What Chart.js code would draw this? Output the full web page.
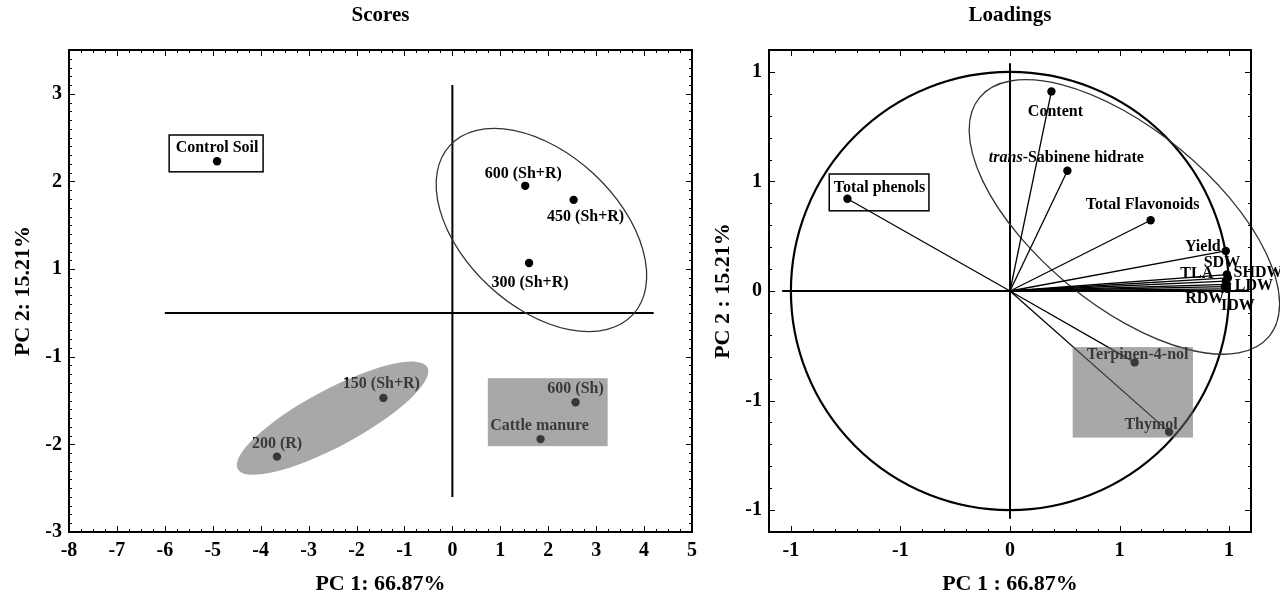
<!DOCTYPE html>
<html><head><meta charset="utf-8">
<script src="https://cdn.jsdelivr.net/npm/chart.js@4.4.1/dist/chart.umd.min.js"></script>
<style>
html,body{margin:0;padding:0;background:#fff;width:1280px;height:596px;overflow:hidden;}
#w1{position:absolute;left:0;top:0;width:704px;height:596px;}
#w2{position:absolute;left:700px;top:0;width:580px;height:596px;}
</style></head><body>
<div id="w1"><canvas id="c1" width="704" height="596"></canvas></div>
<div id="w2"><canvas id="c2" width="580" height="596"></canvas></div>
<script>
// ---------------- DATA ----------------
const scoreNames = ['Control Soil','600 (Sh+R)','450 (Sh+R)','300 (Sh+R)','150 (Sh+R)','200 (R)','600 (Sh)','Cattle manure'];
const scorePC1 = [-4.91, 1.52, 2.53, 1.60, -1.44, -3.66, 2.57, 1.84];
const scorePC2 = [1.73, 1.45, 1.29, 0.57, -0.97, -1.64, -1.02, -1.44];
const scoreXTicks = [-8,-7,-6,-5,-4,-3,-2,-1,0,1,2,3,4,5];
const scoreXTickLabels = ['-8','-7','-6','-5','-4','-3','-2','-1','0','1','2','3','4','5'];
const scoreYTicks = [2.5,1.5,0.5,-0.5,-1.5,-2.5];
const scoreYTickLabels = ['3','2','1','-1','-2','-3'];

const loadingNames = ['Total phenols','Content','trans-Sabinene hidrate','Total Flavonoids','Yield','SDW','SHDW','TLA','LDW','RDW','IDW','Terpinen-4-nol','Thymol'];
const loadingPC1 = [-0.742, 0.189, 0.262, 0.642, 0.985, 0.990, 0.995, 0.985, 0.990, 0.980, 0.990, 0.569, 0.726];
const loadingPC2 = [0.421, 0.911, 0.549, 0.323, 0.183, 0.075, 0.060, 0.045, 0.030, 0.020, 0.010, -0.326, -0.643];
const loadingTicks = [-1,-0.5,0,0.5,1];
const loadingTickLabels = ['-1','-1','0','1','1'];

// ---------------- ANNOTATION GEOMETRY (data units) ----------------
const scoreGroupOutline = {cx:1.858, cy:0.946, ux:1.908, uy:-0.966, vx:-1.089, vy:-0.642};
const scoreGroupShaded  = {cx:-2.501, cy:-1.201, ux:1.979, uy:0.580, vx:0.280, vy:-0.285};
const scoreRectShaded   = {x1:0.74, x2:3.24, y1:-0.745, y2:-1.52};
const scoreLabelBox     = {x1:-5.91, x2:-3.95, y1:2.03, y2:1.61};
const loadingOutline    = {cx:0.522, cy:0.338, ux:0.661, uy:-0.545, vx:-0.255, vy:-0.309};
const unitCircle        = {cx:0, cy:0, ux:1, uy:0, vx:0, vy:1};
const loadingRectShaded = {x1:0.286, x2:0.835, y1:-0.256, y2:-0.669};
const loadingLabelBox   = {x1:-0.825, x2:-0.37, y1:0.534, y2:0.366};

// label offsets (pixels, style only)
const scoreLabelOffsets = [[0,-13],[-2,-12],[12,17],[1,20],[-2,-14],[0,-13],[0,-13],[-1,-13]];
const loadingLabelOffsets = [[32,-11],[4,20],[-1,-13],[-8,-15],[-23,-4],[-5,-12],[30,-5],[-29,-7],[27,1],[-20,12],[11,17],[3,-8],[-18,-7]];

const SERIF = '"Liberation Serif","Times New Roman",serif';
const OVERLAY = 'rgba(99,99,99,0.56)';

function ticksAlong(min, max, step){const out=[];const n=Math.round((max-min)/step);for(let i=0;i<=n;i++)out.push(min+i*step);return out;}

function ellipsePath(chart, e){
  const xs=chart.scales.x, ys=chart.scales.y, ctx=chart.ctx;
  const cx=xs.getPixelForValue(e.cx), cy=ys.getPixelForValue(e.cy);
  const ux=xs.getPixelForValue(e.cx+e.ux)-cx, uy=ys.getPixelForValue(e.cy+e.uy)-cy;
  const vx=xs.getPixelForValue(e.cx+e.vx)-cx, vy=ys.getPixelForValue(e.cy+e.vy)-cy;
  ctx.beginPath();
  ctx.save();
  ctx.transform(ux,uy,vx,vy,cx,cy);
  ctx.arc(0,0,1,0,Math.PI*2);
  ctx.restore();
}
function rectPx(chart, r){
  const xs=chart.scales.x, ys=chart.scales.y;
  const x1=xs.getPixelForValue(r.x1), x2=xs.getPixelForValue(r.x2);
  const y1=ys.getPixelForValue(r.y1), y2=ys.getPixelForValue(r.y2);
  return [Math.min(x1,x2), Math.min(y1,y2), Math.abs(x2-x1), Math.abs(y2-y1)];
}
function drawLabel(ctx, text, x, y){
  ctx.textBaseline='middle';
  if(text.startsWith('trans-')){
    const it='trans', rest=text.slice(5);
    ctx.font='italic bold 16px '+SERIF; const w1=ctx.measureText(it).width;
    ctx.font='bold 16px '+SERIF; const w2=ctx.measureText(rest).width;
    const x0=x-(w1+w2)/2;
    ctx.textAlign='left';
    ctx.font='italic bold 16px '+SERIF; ctx.fillText(it,x0,y);
    ctx.font='bold 16px '+SERIF; ctx.fillText(rest,x0+w1,y);
  } else {
    ctx.font='bold 16px '+SERIF; ctx.textAlign='center'; ctx.fillText(text,x,y);
  }
}

const decorPlugin = {
  id:'decor',
  beforeDatasetsDraw(chart, args, o){
    const ctx=chart.ctx, xs=chart.scales.x, ys=chart.scales.y, a=chart.chartArea;
    ctx.save();
    ctx.fillStyle='#000'; ctx.font='bold 21px '+SERIF; ctx.textAlign='center'; ctx.textBaseline='middle';
    ctx.fillText(o.title,(a.left+a.right)/2,16);
    ctx.strokeStyle='#000'; ctx.lineWidth=2;
    o.axisLines.forEach(l=>{ctx.beginPath();ctx.moveTo(xs.getPixelForValue(l.x1),ys.getPixelForValue(l.y1));ctx.lineTo(xs.getPixelForValue(l.x2),ys.getPixelForValue(l.y2));ctx.stroke();});
    (o.outlines||[]).forEach(s=>{ellipsePath(chart,s.e);ctx.strokeStyle=s.color;ctx.lineWidth=s.width;ctx.stroke();});
    (o.boxes||[]).forEach(b=>{const r=rectPx(chart,b);ctx.fillStyle='#fff';ctx.fillRect(r[0],r[1],r[2],r[3]);ctx.strokeStyle='#000';ctx.lineWidth=1.5;ctx.strokeRect(r[0],r[1],r[2],r[3]);});
    ctx.restore();
  },
  afterDatasetsDraw(chart, args, o){
    const ctx=chart.ctx, xs=chart.scales.x, ys=chart.scales.y, a=chart.chartArea;
    ctx.save();
    ctx.fillStyle='#000';
    o.names.forEach((n,i)=>{
      const px=xs.getPixelForValue(o.px[i]), py=ys.getPixelForValue(o.py[i]);
      drawLabel(ctx,n,px+o.offsets[i][0],py+o.offsets[i][1]);
    });
    ctx.fillStyle=OVERLAY;
    (o.shadeEllipses||[]).forEach(e=>{ellipsePath(chart,e);ctx.fill();});
    (o.shadeRects||[]).forEach(b=>{const r=rectPx(chart,b);ctx.fillRect(r[0],r[1],r[2],r[3]);});
    ctx.strokeStyle='#000'; ctx.lineWidth=1;
    ctx.beginPath();
    ticksAlong(xs.min,xs.max,o.xMinor).forEach(v=>{const p=Math.round(xs.getPixelForValue(v))+0.5;ctx.moveTo(p,a.bottom);ctx.lineTo(p,a.bottom-3);ctx.moveTo(p,a.top);ctx.lineTo(p,a.top+3);});
    ticksAlong(ys.min,ys.max,o.yMinor).forEach(v=>{const p=Math.round(ys.getPixelForValue(v))+0.5;ctx.moveTo(a.left,p);ctx.lineTo(a.left+3,p);ctx.moveTo(a.right,p);ctx.lineTo(a.right-3,p);});
    o.xMajor.forEach(v=>{const p=Math.round(xs.getPixelForValue(v))+0.5;ctx.moveTo(p,a.bottom);ctx.lineTo(p,a.bottom-6);ctx.moveTo(p,a.top);ctx.lineTo(p,a.top+6);});
    o.yMajor.forEach(v=>{const p=Math.round(ys.getPixelForValue(v))+0.5;ctx.moveTo(a.left,p);ctx.lineTo(a.left+6,p);ctx.moveTo(a.right,p);ctx.lineTo(a.right-6,p);});
    ctx.stroke();
    ctx.lineWidth=2;
    ctx.strokeRect(a.left,a.top,a.right-a.left,a.bottom-a.top);
    ctx.restore();
  }
};

function axis(min,max,tickVals,tickLabels,isX,titleText){
  const s={
    type:'linear',min:min,max:max,
    afterBuildTicks:sc=>{sc.ticks=tickVals.map(v=>({value:v}));},
    ticks:{callback:(v,i)=>tickLabels[i],font:{family:SERIF,size:20,weight:'bold'},color:'#000',padding:7,maxRotation:0,autoSkip:false},
    grid:{display:false,drawTicks:false},
    border:{display:false},
    title:{display:true,text:titleText,font:{family:SERIF,size:22,weight:'bold'},color:'#000',padding:isX?{top:0,bottom:-2}:{top:10,bottom:0}}
  };
  if(isX) s.afterFit=sc=>{sc.height=64;}; else s.afterFit=sc=>{sc.width=69;};
  return s;
}

// ---------------- SCORES ----------------
new Chart(document.getElementById('c1'),{
  type:'scatter',
  data:{datasets:[{
    data:scoreNames.map((n,i)=>({x:scorePC1[i],y:scorePC2[i]})),
    pointRadius:4.2,pointBackgroundColor:'#000',pointBorderColor:'#000',pointBorderWidth:0
  }]},
  options:{
    responsive:false,animation:false,devicePixelRatio:1,
    layout:{padding:{left:0,right:0,top:50,bottom:0}},
    plugins:{legend:{display:false},tooltip:{enabled:false},title:{display:false},
      decor:{
        title:'Scores',
        axisLines:[{x1:-6,y1:0,x2:4.2,y2:0},{x1:0,y1:-2.1,x2:0,y2:2.6}],
        outlines:[{e:scoreGroupOutline,color:'#333',width:1.3}],
        boxes:[scoreLabelBox],
        names:scoreNames,px:scorePC1,py:scorePC2,offsets:scoreLabelOffsets,
        shadeEllipses:[scoreGroupShaded],
        shadeRects:[scoreRectShaded],
        xMinor:0.25,yMinor:0.1,xMajor:scoreXTicks,yMajor:scoreYTicks
      }},
    scales:{
      x:axis(-8,5,scoreXTicks,scoreXTickLabels,true,'PC 1: 66.87%'),
      y:axis(-2.5,3.0,scoreYTicks,scoreYTickLabels,false,'PC 2: 15.21%')
    }
  },
  plugins:[decorPlugin]
});

// ---------------- LOADINGS ----------------
new Chart(document.getElementById('c2'),{
  type:'scatter',
  data:{datasets:loadingNames.map((n,i)=>({
    label:n,showLine:true,
    data:[{x:0,y:0},{x:loadingPC1[i],y:loadingPC2[i]}],
    borderColor:'#000',borderWidth:1.3,
    pointRadius:[0,4.2],pointBackgroundColor:'#000',pointBorderColor:'#000',pointBorderWidth:0
  }))},
  options:{
    responsive:false,animation:false,devicePixelRatio:1,
    layout:{padding:{left:0,right:29,top:50,bottom:0}},
    plugins:{legend:{display:false},tooltip:{enabled:false},title:{display:false},
      decor:{
        title:'Loadings',
        axisLines:[{x1:-1.04,y1:0,x2:1.09,y2:0},{x1:0,y1:-1.04,x2:0,y2:1.04}],
        outlines:[{e:unitCircle,color:'#000',width:2.2},{e:loadingOutline,color:'#333',width:1.3}],
        boxes:[loadingLabelBox],
        names:loadingNames,px:loadingPC1,py:loadingPC2,offsets:loadingLabelOffsets,
        shadeEllipses:[],
        shadeRects:[loadingRectShaded],
        xMinor:0.1,yMinor:0.1,xMajor:loadingTicks,yMajor:loadingTicks
      }},
    scales:{
      x:axis(-1.1,1.1,loadingTicks,loadingTickLabels,true,'PC 1 : 66.87%'),
      y:axis(-1.1,1.1,loadingTicks,loadingTickLabels,false,'PC 2 : 15.21%')
    }
  },
  plugins:[decorPlugin]
});
</script>
</body></html>
